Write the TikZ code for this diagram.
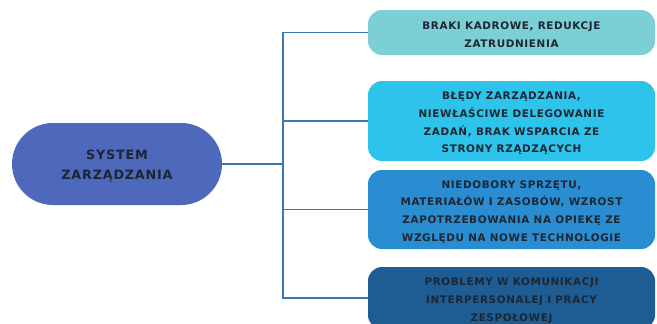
\documentclass[tikz,border=0pt]{standalone}
\usepackage{fontspec}
\setmainfont{DejaVu Sans}
\newfontfamily\wfont{DejaVu Sans}[LetterSpace=6]
\definecolor{cmain}{HTML}{4E68BB}
\definecolor{cone}{HTML}{7DCFD6}
\definecolor{ctwo}{HTML}{2EC3EA}
\definecolor{cthree}{HTML}{2A8DD2}
\definecolor{cfour}{HTML}{1E5C94}
\definecolor{cline}{HTML}{3B78AE}
\definecolor{ctext}{HTML}{1C2733}
\begin{document}
\begin{tikzpicture}[x=1pt,y=-1pt,
  box/.style={rectangle, rounded corners=14pt, minimum width=287pt, inner sep=0pt},
  boxtext/.style={align=center, text=ctext, inner sep=0pt, yshift=-2.5pt,
    font=\wfont\fontsize{10.4}{17.8}\selectfont\bfseries},
  conn/.style={draw=cline, line width=1.8pt}]
\useasboundingbox (0,0) rectangle (657,324);
\node[rectangle, rounded corners=41pt, fill=cmain, minimum width=210pt, minimum height=82pt] (c) at (117,164) {};
\node[align=center, text=ctext, yshift=-2.5pt, font=\wfont\fontsize{12.8}{20}\selectfont\bfseries] (ct) at (c.center)
  {SYSTEM\\ZARZĄDZANIA};
\node[box, fill=cone, minimum height=45pt] (b1) at (511.5,32.5) {};
\node[box, fill=ctwo, minimum height=80pt] (b2) at (511.5,121) {};
\node[box, fill=cthree, minimum height=79pt] (b3) at (511.5,209.5) {};
\node[box, fill=cfour, minimum height=62pt] (b4) at (511.5,298) {};
\node[boxtext] (t1) at (b1.center) {BRAKI KADROWE, REDUKCJE\\ZATRUDNIENIA};
\node[boxtext] (t2) at (b2.center) {BŁĘDY ZARZĄDZANIA,\\NIEWŁAŚCIWE DELEGOWANIE\\ZADAŃ, BRAK WSPARCIA ZE\\STRONY RZĄDZĄCYCH};
\node[boxtext] (t3) at (b3.center) {NIEDOBORY SPRZĘTU,\\MATERIAŁÓW I ZASOBÓW, WZROST\\ZAPOTRZEBOWANIA NA OPIEKĘ ZE\\WZGLĘDU NA NOWE TECHNOLOGIE};
\node[boxtext] (t4) at (b4.center) {PROBLEMY W KOMUNIKACJI\\INTERPERSONALEJ I PRACY\\ZESPOŁOWEJ};
\coordinate (j) at (283,164);
\draw[conn] (c.east) -- (j);
\draw[conn] (b1.west) -| (j);
\draw[conn] (b2.west) -| (j);
\draw[conn] (b3.west) -| (j);
\draw[conn] (b4.west) -| (j);
\end{tikzpicture}
\end{document}
